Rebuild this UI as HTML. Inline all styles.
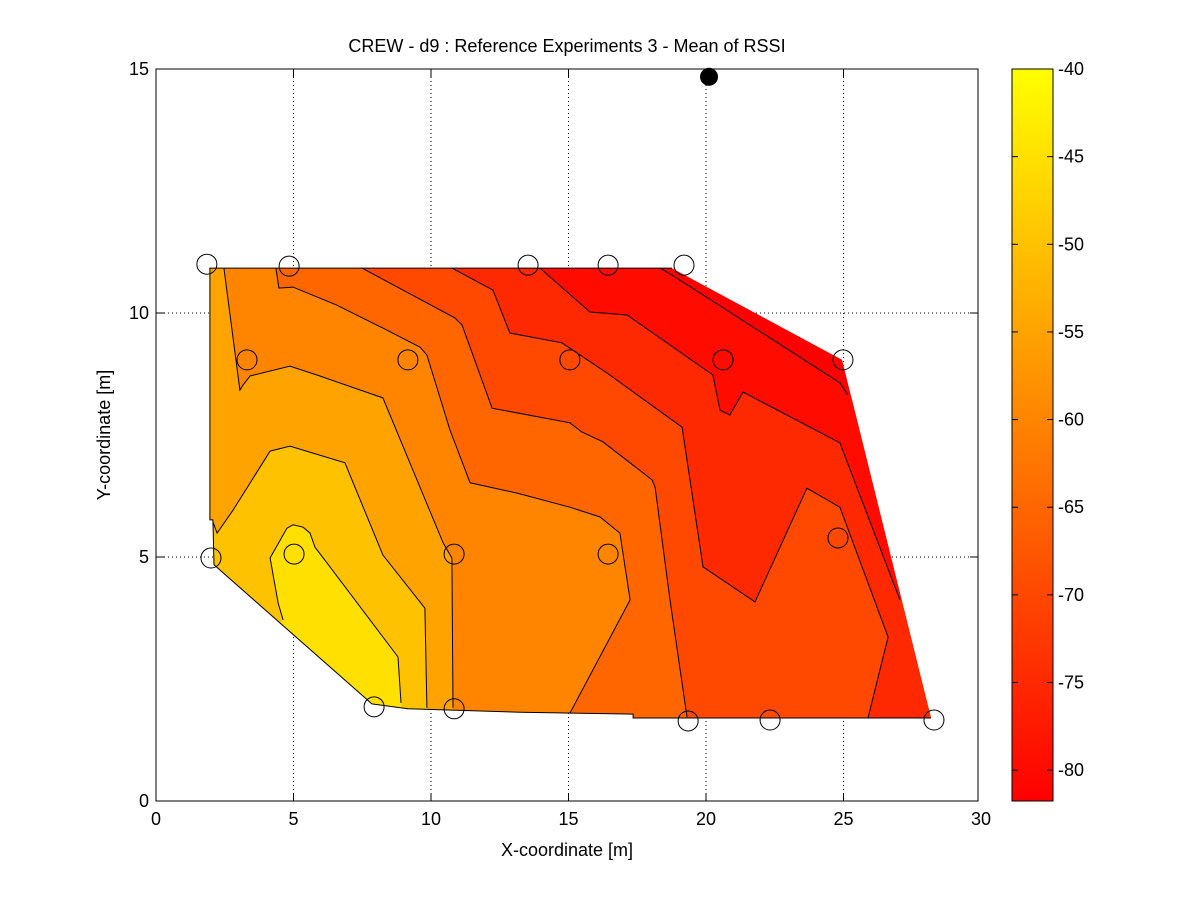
<!DOCTYPE html>
<html><head><meta charset="utf-8"><style>
body{margin:0;background:#fff;width:1201px;height:901px;overflow:hidden}
svg text{font-family:"Liberation Sans",Arial,sans-serif;fill:#000}
</style></head><body>
<svg id="chart" width="1201" height="901" viewBox="0 0 1201 901">
<defs>
<linearGradient id="cbgrad" x1="0" y1="1" x2="0" y2="0"><stop offset="0" stop-color="rgb(255,0,0)"/><stop offset="1" stop-color="rgb(255,255,0)"/></linearGradient>
</defs>
<rect x="0" y="0" width="1201" height="901" fill="#fff"/>
<g id="plot"></g>
<text x="567" y="52" font-size="18" text-anchor="middle">CREW - d9 : Reference Experiments 3 - Mean of RSSI</text>
<text x="567" y="856" font-size="18" text-anchor="middle">X-coordinate [m]</text>
<text x="0" y="0" font-size="18" text-anchor="middle" transform="translate(110,435) rotate(-90)">Y-coordinate [m]</text>
</svg>
<script>
const xTicks=[0,5,10,15,20,25,30];
const yTicks=[0,5,10,15];
const cbTicks=[-40,-45,-50,-55,-60,-65,-70,-75,-80];
const cbMin=-81.76, cbMax=-40;
const hull=[[1.96,10.92],[18.76,10.92],[24.95,9.04],[28.18,1.70],[17.35,1.70],[17.35,1.78],[13.24,1.82],[9.16,1.89],[7.85,1.99],[2.11,4.84],[2.07,5.76],[1.96,5.76]];
const levels=[-80,-75,-70,-65,-60,-55,-50,-45];
const line80=[[18.33,10.92],[18.76,10.78],[24.87,8.57],[25.16,8.32]];
const close80=[[32,8.32],[32,0.5],[1,0.5],[1,11.5],[18.33,11.5]];
const line75=[[13.96,10.92],[15.78,10.02],[17.13,9.96],[20.25,8.73],[20.51,8.01],[20.87,7.91],[21.35,8.38],[24.87,7.34],[27.05,4.12]];
const close75=[[32,4.12],[32,0.5],[1,0.5],[1,11.5],[13.96,11.5]];
const line70=[[10.76,10.92],[12.25,10.47],[12.87,9.59],[14.76,9.39],[16.40,8.77],[19.13,7.66],[19.89,4.80],[21.78,4.08],[23.67,6.41],[24.87,6.02],[26.62,3.36],[25.89,1.70]];
const close70=[[25.89,0.5],[1,0.5],[1,11.5],[10.76,11.5]];
const line65=[[7.49,10.92],[10.87,9.90],[11.13,9.75],[12.22,8.05],[15.05,7.75],[15.49,7.56],[16.25,7.36],[18.04,6.58],[18.15,6.43],[18.69,4.12],[19.31,1.72]];
const close65=[[19.31,0.5],[1,0.5],[1,11.5],[7.49,11.5]];
const line60=[[4.36,10.92],[4.47,10.51],[4.98,10.53],[6.58,10.16],[8.25,9.69],[9.60,9.30],[9.85,9.14],[10.69,7.60],[11.42,6.52],[13.13,6.31],[15.05,6.02],[16.15,5.82],[16.87,5.49],[17.24,4.12],[15.05,1.80]];
const close60=[[15.05,0.5],[1,0.5],[1,11.5],[4.36,11.5]];
const line55=[[2.47,10.92],[3.05,8.42],[3.16,8.52],[3.42,8.71],[4.87,8.91],[5.85,8.73],[8.25,8.26],[10.44,5.29],[10.76,4.98],[10.80,1.91]];
const close55=[[10.8,0.5],[1,0.5],[1,11.5],[2.47,11.5]];
const line50=[[2.07,5.72],[2.22,5.49],[2.80,5.96],[4.15,7.17],[4.87,7.27],[5.35,7.19],[6.87,6.93],[8.25,5.04],[9.78,3.95],[9.85,1.91]];
const close50=[[9.85,0.5],[1,0.5],[1,5.72]];
const line45=[[8.91,2.01],[8.80,2.95],[6.22,4.88],[5.78,5.20],[5.60,5.49],[5.35,5.61],[4.98,5.66],[4.76,5.59],[4.15,4.98],[4.44,4.06],[4.62,3.71]];
const close45=[[3.5,3.0],[8.91,0.5]];
const sensorX=[1.85,4.84,13.53,16.44,19.2,3.31,9.16,15.05,20.62,24.98,2.0,5.02,10.84,16.44,24.8,7.93,10.84,19.35,22.33,28.29];
const sensorY=[11.0,10.96,10.98,10.98,10.98,9.04,9.04,9.04,9.04,9.04,4.98,5.06,5.06,5.06,5.39,1.93,1.89,1.64,1.66,1.66];
const txX=[20.11], txY=[14.84];

const X0=156,X1=981,Y0=801,Y1=69;
const sx=v=>X0+(v-0)/(30-0)*(X1-X0);
const sy=v=>Y0-(v-0)/(15-0)*(Y0-Y1);
const cy=v=>69+(cbMax-v)/(cbMax-cbMin)*(801-69);
const col=v=>'rgb(255,'+Math.round(255*Math.max(0,Math.min(1,(v-cbMin)/(cbMax-cbMin))))+',0)';
const NS='http://www.w3.org/2000/svg';
const svg=document.getElementById('chart');
const plot=document.getElementById('plot');
function mk(t,a,p){const e=document.createElementNS(NS,t);for(const k in a)e.setAttribute(k,a[k]);(p||plot).appendChild(e);return e;}
const pts=a=>a.map(p=>sx(p[0]).toFixed(1)+','+sy(p[1]).toFixed(1)).join(' ');

mk('rect',{x:X0,y:Y1,width:X1-X0-3,height:Y0-Y1,fill:'#fff'});
xTicks.slice(1,-1).forEach(t=>{const g=mk('line',{x1:sx(t),x2:sx(t),y1:Y1,y2:Y0,stroke:'#000','stroke-width':1,'stroke-dasharray':'1,3'});

});
yTicks.slice(1,-1).forEach(t=>{const g=mk('line',{x1:X0,x2:X1-3,y1:sy(t),y2:sy(t),stroke:'#000','stroke-width':1,'stroke-dasharray':'1,3'});

});

const clip=mk('clipPath',{id:'hullclip'});mk('polygon',{points:pts(hull)},clip);
const cg=mk('g',{'clip-path':'url(#hullclip)'});


const base=mk('polygon',{points:pts(hull),fill:col(cbMin)},cg);


const lines=[line80,line75,line70,line65,line60,line55,line50,line45];
const closes=[close80,close75,close70,close65,close60,close55,close50,close45];
levels.forEach((L,i)=>{const p=mk('polygon',{points:pts(lines[i].concat(closes[i])),fill:col(L)},cg);

});
levels.forEach((L,i)=>{const p=mk('polyline',{points:pts(lines[i]),fill:'none',stroke:'#000','stroke-width':1});

});
const ho=mk('polyline',{points:pts(hull.slice(3).concat([hull[0],hull[1]])),fill:'none',stroke:'#000','stroke-width':1});



sensorX.forEach((x,i)=>{const c=mk('circle',{cx:sx(x),cy:sy(sensorY[i]),r:10,fill:'none',stroke:'#000','stroke-width':1});

});
txX.forEach((x,i)=>{const c=mk('circle',{cx:sx(x),cy:sy(txY[i]),r:9,fill:'#000'});

});

const box=mk('rect',{x:X0,y:Y1,width:X1-X0-3,height:Y0-Y1,fill:'none',stroke:'#000','stroke-width':1});


xTicks.forEach(t=>{const x=Math.min(sx(t),X1-3);
mk('line',{x1:x,x2:x,y1:Y0,y2:Y0-8,stroke:'#000'});mk('line',{x1:x,x2:x,y1:Y1,y2:Y1+8,stroke:'#000'});
const tx=mk('text',{x:sx(t),y:Y0+24,'font-size':18,'text-anchor':'middle'});tx.textContent=t;

});
yTicks.forEach(t=>{mk('line',{x1:X0,x2:X0+8,y1:sy(t),y2:sy(t),stroke:'#000'});mk('line',{x1:X1-3,x2:X1-11,y1:sy(t),y2:sy(t),stroke:'#000'});
const tx=mk('text',{x:X0-7,y:sy(t)+6,'font-size':18,'text-anchor':'end'});tx.textContent=t;

});

const cb=mk('rect',{x:1012,y:69,width:41,height:732,fill:'url(#cbgrad)',stroke:'#000','stroke-width':1});


cbTicks.forEach(t=>{const y=cy(t);
mk('line',{x1:1012,x2:1018,y1:y,y2:y,stroke:'#000'});mk('line',{x1:1053,x2:1047,y1:y,y2:y,stroke:'#000'});
const tx=mk('text',{x:1058,y:y+6,'font-size':18});tx.textContent=t;

});
</script>
</body></html>
